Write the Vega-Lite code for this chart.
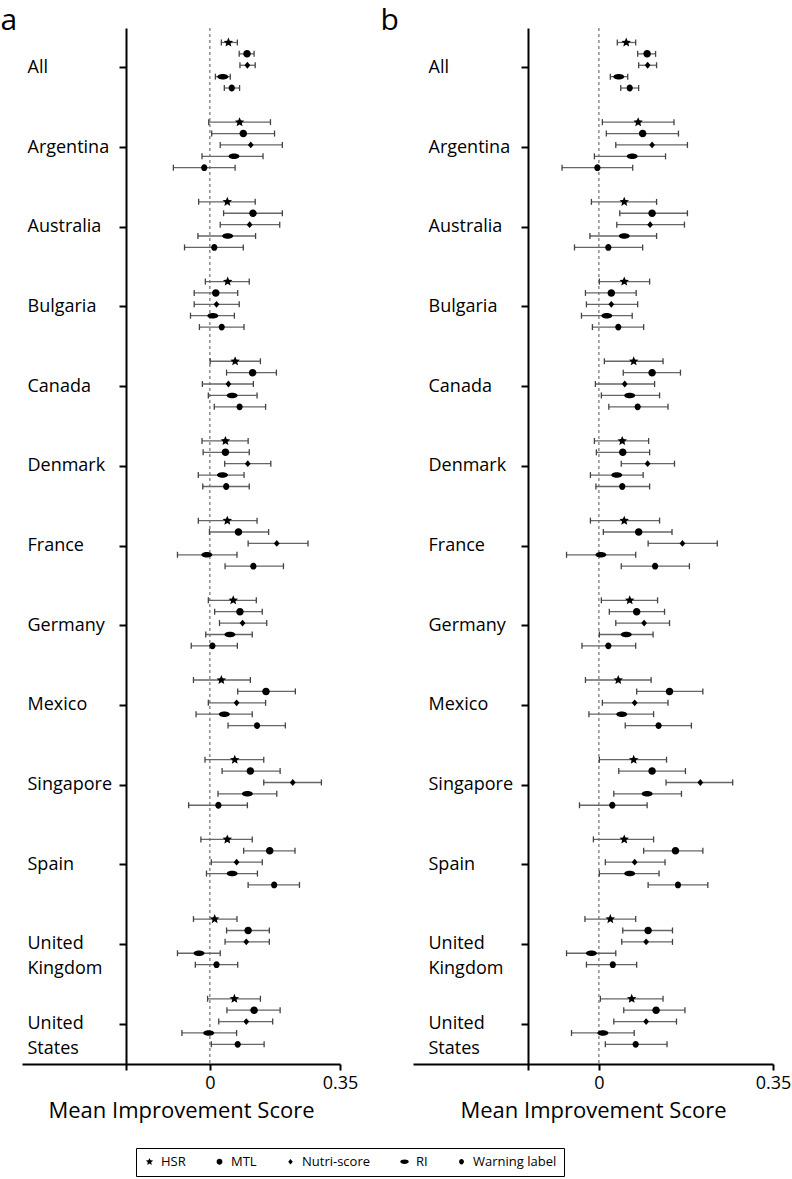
{
  "$schema": "https://vega.github.io/schema/vega-lite/v6.json",
  "padding": {"left": 0, "top": 5, "right": 0, "bottom": 0},
  "background": "white",
  "config": {
    "view": {"stroke": null},
    "font": "Open Sans",
    "axis": {"grid": false, "domainColor": "black", "domainWidth": 2, "tickColor": "black", "tickWidth": 2, "labelColor": "black", "titleColor": "black", "labelFont": "Open Sans", "titleFont": "Open Sans", "titleFontWeight": "normal"},
    "legend": {"labelFont": "Open Sans", "labelColor": "black"}
  },
  "datasets": {
    "a": [
      {"country": "All", "label": "HSR", "mean": 0.050, "lo": 0.031, "hi": 0.074},
      {"country": "All", "label": "MTL", "mean": 0.100, "lo": 0.079, "hi": 0.119},
      {"country": "All", "label": "Nutri-score", "mean": 0.101, "lo": 0.081, "hi": 0.122},
      {"country": "All", "label": "RI", "mean": 0.035, "lo": 0.015, "hi": 0.055},
      {"country": "All", "label": "Warning label", "mean": 0.059, "lo": 0.039, "hi": 0.080},
      {"country": "Argentina", "label": "HSR", "mean": 0.080, "lo": -0.003, "hi": 0.163},
      {"country": "Argentina", "label": "MTL", "mean": 0.090, "lo": 0.005, "hi": 0.174},
      {"country": "Argentina", "label": "Nutri-score", "mean": 0.110, "lo": 0.028, "hi": 0.195},
      {"country": "Argentina", "label": "RI", "mean": 0.065, "lo": -0.021, "hi": 0.143},
      {"country": "Argentina", "label": "Warning label", "mean": -0.015, "lo": -0.098, "hi": 0.068},
      {"country": "Australia", "label": "HSR", "mean": 0.047, "lo": -0.030, "hi": 0.122},
      {"country": "Australia", "label": "MTL", "mean": 0.116, "lo": 0.037, "hi": 0.195},
      {"country": "Australia", "label": "Nutri-score", "mean": 0.107, "lo": 0.028, "hi": 0.188},
      {"country": "Australia", "label": "RI", "mean": 0.048, "lo": -0.032, "hi": 0.123},
      {"country": "Australia", "label": "Warning label", "mean": 0.012, "lo": -0.068, "hi": 0.090},
      {"country": "Bulgaria", "label": "HSR", "mean": 0.048, "lo": -0.012, "hi": 0.106},
      {"country": "Bulgaria", "label": "MTL", "mean": 0.016, "lo": -0.042, "hi": 0.075},
      {"country": "Bulgaria", "label": "Nutri-score", "mean": 0.018, "lo": -0.042, "hi": 0.079},
      {"country": "Bulgaria", "label": "RI", "mean": 0.008, "lo": -0.052, "hi": 0.066},
      {"country": "Bulgaria", "label": "Warning label", "mean": 0.032, "lo": -0.028, "hi": 0.092},
      {"country": "Canada", "label": "HSR", "mean": 0.068, "lo": 0.001, "hi": 0.136},
      {"country": "Canada", "label": "MTL", "mean": 0.115, "lo": 0.045, "hi": 0.179},
      {"country": "Canada", "label": "Nutri-score", "mean": 0.050, "lo": -0.020, "hi": 0.117},
      {"country": "Canada", "label": "RI", "mean": 0.060, "lo": -0.004, "hi": 0.127},
      {"country": "Canada", "label": "Warning label", "mean": 0.080, "lo": 0.012, "hi": 0.150},
      {"country": "Denmark", "label": "HSR", "mean": 0.042, "lo": -0.021, "hi": 0.103},
      {"country": "Denmark", "label": "MTL", "mean": 0.042, "lo": -0.018, "hi": 0.106},
      {"country": "Denmark", "label": "Nutri-score", "mean": 0.102, "lo": 0.040, "hi": 0.164},
      {"country": "Denmark", "label": "RI", "mean": 0.034, "lo": -0.031, "hi": 0.092},
      {"country": "Denmark", "label": "Warning label", "mean": 0.044, "lo": -0.019, "hi": 0.106},
      {"country": "France", "label": "HSR", "mean": 0.047, "lo": -0.031, "hi": 0.127},
      {"country": "France", "label": "MTL", "mean": 0.077, "lo": -0.001, "hi": 0.158},
      {"country": "France", "label": "Nutri-score", "mean": 0.180, "lo": 0.103, "hi": 0.264},
      {"country": "France", "label": "RI", "mean": -0.008, "lo": -0.087, "hi": 0.073},
      {"country": "France", "label": "Warning label", "mean": 0.117, "lo": 0.041, "hi": 0.198},
      {"country": "Germany", "label": "HSR", "mean": 0.063, "lo": -0.004, "hi": 0.125},
      {"country": "Germany", "label": "MTL", "mean": 0.081, "lo": 0.013, "hi": 0.141},
      {"country": "Germany", "label": "Nutri-score", "mean": 0.088, "lo": 0.026, "hi": 0.153},
      {"country": "Germany", "label": "RI", "mean": 0.054, "lo": -0.011, "hi": 0.114},
      {"country": "Germany", "label": "Warning label", "mean": 0.007, "lo": -0.050, "hi": 0.074},
      {"country": "Mexico", "label": "HSR", "mean": 0.031, "lo": -0.044, "hi": 0.109},
      {"country": "Mexico", "label": "MTL", "mean": 0.151, "lo": 0.075, "hi": 0.230},
      {"country": "Mexico", "label": "Nutri-score", "mean": 0.072, "lo": -0.004, "hi": 0.150},
      {"country": "Mexico", "label": "RI", "mean": 0.039, "lo": -0.037, "hi": 0.114},
      {"country": "Mexico", "label": "Warning label", "mean": 0.127, "lo": 0.049, "hi": 0.203},
      {"country": "Singapore", "label": "HSR", "mean": 0.067, "lo": -0.013, "hi": 0.145},
      {"country": "Singapore", "label": "MTL", "mean": 0.109, "lo": 0.033, "hi": 0.189},
      {"country": "Singapore", "label": "Nutri-score", "mean": 0.223, "lo": 0.145, "hi": 0.300},
      {"country": "Singapore", "label": "RI", "mean": 0.101, "lo": 0.022, "hi": 0.180},
      {"country": "Singapore", "label": "Warning label", "mean": 0.023, "lo": -0.057, "hi": 0.101},
      {"country": "Spain", "label": "HSR", "mean": 0.047, "lo": -0.024, "hi": 0.114},
      {"country": "Spain", "label": "MTL", "mean": 0.161, "lo": 0.091, "hi": 0.229},
      {"country": "Spain", "label": "Nutri-score", "mean": 0.072, "lo": 0.004, "hi": 0.141},
      {"country": "Spain", "label": "RI", "mean": 0.060, "lo": -0.009, "hi": 0.128},
      {"country": "Spain", "label": "Warning label", "mean": 0.173, "lo": 0.103, "hi": 0.241},
      {"country": "United Kingdom", "label": "HSR", "mean": 0.013, "lo": -0.044, "hi": 0.073},
      {"country": "United Kingdom", "label": "MTL", "mean": 0.103, "lo": 0.045, "hi": 0.160},
      {"country": "United Kingdom", "label": "Nutri-score", "mean": 0.098, "lo": 0.041, "hi": 0.160},
      {"country": "United Kingdom", "label": "RI", "mean": -0.029, "lo": -0.087, "hi": 0.028},
      {"country": "United Kingdom", "label": "Warning label", "mean": 0.018, "lo": -0.039, "hi": 0.075},
      {"country": "United States", "label": "HSR", "mean": 0.066, "lo": -0.006, "hi": 0.136},
      {"country": "United States", "label": "MTL", "mean": 0.119, "lo": 0.046, "hi": 0.189},
      {"country": "United States", "label": "Nutri-score", "mean": 0.098, "lo": 0.024, "hi": 0.169},
      {"country": "United States", "label": "RI", "mean": -0.003, "lo": -0.075, "hi": 0.072},
      {"country": "United States", "label": "Warning label", "mean": 0.075, "lo": 0.004, "hi": 0.146}
    ],
    "b": [
      {"country": "All", "label": "HSR", "mean": 0.055, "lo": 0.037, "hi": 0.074},
      {"country": "All", "label": "MTL", "mean": 0.097, "lo": 0.078, "hi": 0.114},
      {"country": "All", "label": "Nutri-score", "mean": 0.098, "lo": 0.080, "hi": 0.116},
      {"country": "All", "label": "RI", "mean": 0.040, "lo": 0.023, "hi": 0.058},
      {"country": "All", "label": "Warning label", "mean": 0.062, "lo": 0.044, "hi": 0.080},
      {"country": "Argentina", "label": "HSR", "mean": 0.079, "lo": 0.007, "hi": 0.151},
      {"country": "Argentina", "label": "MTL", "mean": 0.088, "lo": 0.015, "hi": 0.160},
      {"country": "Argentina", "label": "Nutri-score", "mean": 0.107, "lo": 0.034, "hi": 0.178},
      {"country": "Argentina", "label": "RI", "mean": 0.067, "lo": -0.009, "hi": 0.134},
      {"country": "Argentina", "label": "Warning label", "mean": -0.003, "lo": -0.074, "hi": 0.068},
      {"country": "Australia", "label": "HSR", "mean": 0.051, "lo": -0.015, "hi": 0.116},
      {"country": "Australia", "label": "MTL", "mean": 0.107, "lo": 0.042, "hi": 0.178},
      {"country": "Australia", "label": "Nutri-score", "mean": 0.103, "lo": 0.036, "hi": 0.172},
      {"country": "Australia", "label": "RI", "mean": 0.051, "lo": -0.018, "hi": 0.116},
      {"country": "Australia", "label": "Warning label", "mean": 0.019, "lo": -0.049, "hi": 0.088},
      {"country": "Bulgaria", "label": "HSR", "mean": 0.051, "lo": 0.001, "hi": 0.102},
      {"country": "Bulgaria", "label": "MTL", "mean": 0.025, "lo": -0.027, "hi": 0.075},
      {"country": "Bulgaria", "label": "Nutri-score", "mean": 0.025, "lo": -0.025, "hi": 0.078},
      {"country": "Bulgaria", "label": "RI", "mean": 0.016, "lo": -0.035, "hi": 0.067},
      {"country": "Bulgaria", "label": "Warning label", "mean": 0.039, "lo": -0.013, "hi": 0.090},
      {"country": "Canada", "label": "HSR", "mean": 0.070, "lo": 0.011, "hi": 0.129},
      {"country": "Canada", "label": "MTL", "mean": 0.107, "lo": 0.049, "hi": 0.164},
      {"country": "Canada", "label": "Nutri-score", "mean": 0.052, "lo": -0.007, "hi": 0.112},
      {"country": "Canada", "label": "RI", "mean": 0.062, "lo": 0.005, "hi": 0.122},
      {"country": "Canada", "label": "Warning label", "mean": 0.078, "lo": 0.020, "hi": 0.139},
      {"country": "Denmark", "label": "HSR", "mean": 0.047, "lo": -0.009, "hi": 0.100},
      {"country": "Denmark", "label": "MTL", "mean": 0.048, "lo": -0.005, "hi": 0.102},
      {"country": "Denmark", "label": "Nutri-score", "mean": 0.098, "lo": 0.045, "hi": 0.152},
      {"country": "Denmark", "label": "RI", "mean": 0.036, "lo": -0.017, "hi": 0.089},
      {"country": "Denmark", "label": "Warning label", "mean": 0.047, "lo": -0.006, "hi": 0.102},
      {"country": "France", "label": "HSR", "mean": 0.051, "lo": -0.017, "hi": 0.122},
      {"country": "France", "label": "MTL", "mean": 0.080, "lo": 0.009, "hi": 0.147},
      {"country": "France", "label": "Nutri-score", "mean": 0.168, "lo": 0.099, "hi": 0.238},
      {"country": "France", "label": "RI", "mean": 0.004, "lo": -0.065, "hi": 0.074},
      {"country": "France", "label": "Warning label", "mean": 0.113, "lo": 0.045, "hi": 0.182},
      {"country": "Germany", "label": "HSR", "mean": 0.062, "lo": 0.005, "hi": 0.118},
      {"country": "Germany", "label": "MTL", "mean": 0.076, "lo": 0.021, "hi": 0.132},
      {"country": "Germany", "label": "Nutri-score", "mean": 0.091, "lo": 0.034, "hi": 0.142},
      {"country": "Germany", "label": "RI", "mean": 0.055, "lo": 0.001, "hi": 0.109},
      {"country": "Germany", "label": "Warning label", "mean": 0.019, "lo": -0.034, "hi": 0.074},
      {"country": "Mexico", "label": "HSR", "mean": 0.039, "lo": -0.027, "hi": 0.105},
      {"country": "Mexico", "label": "MTL", "mean": 0.142, "lo": 0.076, "hi": 0.209},
      {"country": "Mexico", "label": "Nutri-score", "mean": 0.072, "lo": 0.007, "hi": 0.139},
      {"country": "Mexico", "label": "RI", "mean": 0.046, "lo": -0.020, "hi": 0.110},
      {"country": "Mexico", "label": "Warning label", "mean": 0.120, "lo": 0.053, "hi": 0.186},
      {"country": "Singapore", "label": "HSR", "mean": 0.070, "lo": 0.001, "hi": 0.136},
      {"country": "Singapore", "label": "MTL", "mean": 0.107, "lo": 0.040, "hi": 0.174},
      {"country": "Singapore", "label": "Nutri-score", "mean": 0.204, "lo": 0.135, "hi": 0.269},
      {"country": "Singapore", "label": "RI", "mean": 0.097, "lo": 0.030, "hi": 0.166},
      {"country": "Singapore", "label": "Warning label", "mean": 0.027, "lo": -0.039, "hi": 0.097},
      {"country": "Spain", "label": "HSR", "mean": 0.051, "lo": -0.011, "hi": 0.110},
      {"country": "Spain", "label": "MTL", "mean": 0.154, "lo": 0.090, "hi": 0.209},
      {"country": "Spain", "label": "Nutri-score", "mean": 0.072, "lo": 0.013, "hi": 0.133},
      {"country": "Spain", "label": "RI", "mean": 0.062, "lo": 0.001, "hi": 0.121},
      {"country": "Spain", "label": "Warning label", "mean": 0.159, "lo": 0.099, "hi": 0.219},
      {"country": "United Kingdom", "label": "HSR", "mean": 0.023, "lo": -0.028, "hi": 0.074},
      {"country": "United Kingdom", "label": "MTL", "mean": 0.099, "lo": 0.048, "hi": 0.148},
      {"country": "United Kingdom", "label": "Nutri-score", "mean": 0.095, "lo": 0.046, "hi": 0.148},
      {"country": "United Kingdom", "label": "RI", "mean": -0.015, "lo": -0.065, "hi": 0.034},
      {"country": "United Kingdom", "label": "Warning label", "mean": 0.028, "lo": -0.025, "hi": 0.076},
      {"country": "United States", "label": "HSR", "mean": 0.066, "lo": 0.003, "hi": 0.129},
      {"country": "United States", "label": "MTL", "mean": 0.115, "lo": 0.050, "hi": 0.173},
      {"country": "United States", "label": "Nutri-score", "mean": 0.095, "lo": 0.030, "hi": 0.156},
      {"country": "United States", "label": "RI", "mean": 0.008, "lo": -0.055, "hi": 0.071},
      {"country": "United States", "label": "Warning label", "mean": 0.074, "lo": 0.013, "hi": 0.137}
    ]
  },
  "spacing": 73,
  "bounds": "flush",
  "resolve": {"scale": {"shape": "shared"}},
  "hconcat": [
    {
      "width": 318,
      "height": 1036,
      "layer": [
        {
          "data": {"values": [{"zero": 0}]},
          "mark": {"type": "rule", "color": "#8c8c8c", "strokeDash": [3, 3], "strokeWidth": 1.5},
          "encoding": {
            "x": {"field": "zero", "type": "quantitative", "title": "Mean Improvement Score",
              "scale": {"domain": [-0.505, 0.35], "nice": false, "zero": false},
              "axis": {"values": [-0.2253, 0, 0.35], "labelExpr": "datum.value == 0 ? '0' : (datum.value > 0.3 ? '0.35' : '')", "labelFontSize": 18, "titleFontSize": 22, "tickSize": 6, "labelPadding": 4, "titlePadding": 8, "labelFlush": false, "labelOverlap": false}}
          }
        },
        {
          "data": {"name": "a"},
          "encoding": {
            "y": {"field": "country", "type": "nominal", "sort": ["All", "Argentina", "Australia", "Bulgaria", "Canada", "Denmark", "France", "Germany", "Mexico", "Singapore", "Spain", "United Kingdom", "United States"],
              "scale": {"paddingInner": 0, "paddingOuter": 0},
              "axis": {"title": "a", "titleAngle": 0, "titleX": -126, "titleY": 1, "titleAlign": "left", "titleBaseline": "alphabetic", "titleFontSize": 30, "titleFontWeight": "normal",
                "offset": -104, "tickSize": 7, "labelAlign": "left", "labelPadding": 92, "labelFontSize": 18, "labelLimit": 300, "labelBaseline": "middle", "labelLineHeight": 25,
                "labelExpr": "datum.value == 'United Kingdom' ? ['United', 'Kingdom'] : (datum.value == 'United States' ? ['United', 'States'] : datum.value)"}},
            "yOffset": {"field": "label", "type": "nominal", "sort": ["HSR", "MTL", "Nutri-score", "RI", "Warning label"],
              "scale": {"paddingInner": 0, "paddingOuter": 1.81, "align": 0.386}}
          },
          "layer": [
            {"mark": {"type": "rule", "color": "#666666", "strokeWidth": 1.3},
              "encoding": {"x": {"field": "lo", "type": "quantitative", "title": "Mean Improvement Score"}, "x2": {"field": "hi"}}},
            {"mark": {"type": "point", "shape": "M0,-1L0,1", "filled": false, "color": "#444444", "strokeWidth": 1.3, "size": 36, "opacity": 1},
              "encoding": {"x": {"field": "lo", "type": "quantitative", "title": "Mean Improvement Score"}}},
            {"mark": {"type": "point", "shape": "M0,-1L0,1", "filled": false, "color": "#444444", "strokeWidth": 1.3, "size": 36, "opacity": 1},
              "encoding": {"x": {"field": "hi", "type": "quantitative", "title": "Mean Improvement Score"}}},
            {"mark": {"type": "point", "filled": true, "color": "black", "size": 100, "opacity": 1},
              "encoding": {
                "x": {"field": "mean", "type": "quantitative", "title": "Mean Improvement Score"},
                "shape": {"field": "label", "type": "nominal",
                  "scale": {"domain": ["HSR", "MTL", "Nutri-score", "RI", "Warning label"],
                    "range": ["M0,-1L0.2645,-0.3641L0.9511,-0.309L0.428,0.1391L0.5878,0.809L0,0.45L-0.5878,0.809L-0.428,0.1391L-0.9511,-0.309L-0.2645,-0.3641Z",
                      "M-0.75,0A0.75,0.75,0,1,1,0.75,0A0.75,0.75,0,1,1,-0.75,0Z",
                      "M0,-0.68L0.58,0L0,0.68L-0.58,0Z",
                      "M-1.1,0A1.1,0.55,0,1,1,1.1,0A1.1,0.55,0,1,1,-1.1,0Z",
                      "M-0.62,0A0.62,0.68,0,1,1,0.62,0A0.62,0.68,0,1,1,-0.62,0Z"]},
                  "legend": {"title": null, "orient": "none", "legendX": 114, "legendY": 1120, "direction": "horizontal", "strokeColor": "black", "padding": 7, "columnPadding": 27, "labelFontSize": 13, "symbolSize": 60, "symbolFillColor": "black", "symbolStrokeWidth": 0, "labelOffset": 5,
                    "encode": {"legend": {"update": {"strokeWidth": {"value": 1.5}}}}}}
              }}
          ]
        }
      ]
    },
    {
      "width": 360,
      "height": 1036,
      "layer": [
        {
          "data": {"values": [{"zero": 0}]},
          "mark": {"type": "rule", "color": "#8c8c8c", "strokeDash": [3, 3], "strokeWidth": 1.5},
          "encoding": {
            "x": {"field": "zero", "type": "quantitative", "title": "Mean Improvement Score",
              "scale": {"domain": [-0.3736, 0.35], "nice": false, "zero": false},
              "axis": {"values": [-0.142, 0, 0.35], "labelExpr": "datum.value == 0 ? '0' : (datum.value > 0.3 ? '0.35' : '')", "labelFontSize": 18, "titleFontSize": 22, "tickSize": 6, "labelPadding": 4, "titlePadding": 8, "labelFlush": false, "labelOverlap": false}}
          }
        },
        {
          "data": {"name": "b"},
          "encoding": {
            "y": {"field": "country", "type": "nominal", "sort": ["All", "Argentina", "Australia", "Bulgaria", "Canada", "Denmark", "France", "Germany", "Mexico", "Singapore", "Spain", "United Kingdom", "United States"],
              "scale": {"paddingInner": 0, "paddingOuter": 0},
              "axis": {"title": "b", "titleAngle": 0, "titleX": -148, "titleY": 1, "titleAlign": "left", "titleBaseline": "alphabetic", "titleFontSize": 30, "titleFontWeight": "normal",
                "offset": -115, "tickSize": 7, "labelAlign": "left", "labelPadding": 93, "labelFontSize": 18, "labelLimit": 300, "labelBaseline": "middle", "labelLineHeight": 25,
                "labelExpr": "datum.value == 'United Kingdom' ? ['United', 'Kingdom'] : (datum.value == 'United States' ? ['United', 'States'] : datum.value)"}},
            "yOffset": {"field": "label", "type": "nominal", "sort": ["HSR", "MTL", "Nutri-score", "RI", "Warning label"],
              "scale": {"paddingInner": 0, "paddingOuter": 1.81, "align": 0.386}}
          },
          "layer": [
            {"mark": {"type": "rule", "color": "#666666", "strokeWidth": 1.3},
              "encoding": {"x": {"field": "lo", "type": "quantitative", "title": "Mean Improvement Score"}, "x2": {"field": "hi"}}},
            {"mark": {"type": "point", "shape": "M0,-1L0,1", "filled": false, "color": "#444444", "strokeWidth": 1.3, "size": 36, "opacity": 1},
              "encoding": {"x": {"field": "lo", "type": "quantitative", "title": "Mean Improvement Score"}}},
            {"mark": {"type": "point", "shape": "M0,-1L0,1", "filled": false, "color": "#444444", "strokeWidth": 1.3, "size": 36, "opacity": 1},
              "encoding": {"x": {"field": "hi", "type": "quantitative", "title": "Mean Improvement Score"}}},
            {"mark": {"type": "point", "filled": true, "color": "black", "size": 100, "opacity": 1},
              "encoding": {
                "x": {"field": "mean", "type": "quantitative", "title": "Mean Improvement Score"},
                "shape": {"field": "label", "type": "nominal"}
              }}
          ]
        }
      ]
    }
  ]
}
